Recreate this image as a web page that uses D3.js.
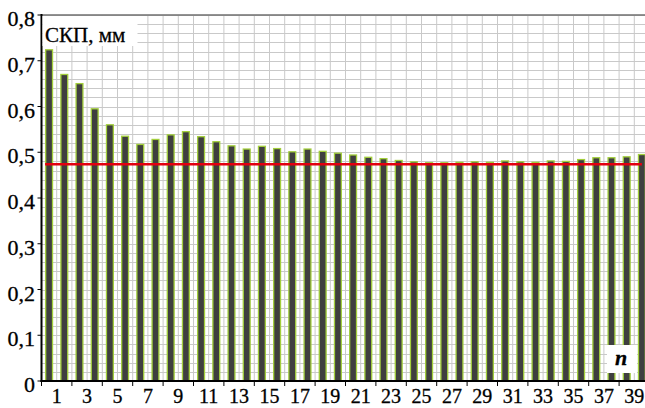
<!DOCTYPE html>
<html>
<head>
<meta charset="utf-8">
<script src="https://cdn.jsdelivr.net/npm/d3@7"></script>
<style>
  html, body { margin: 0; padding: 0; background: #fff; }
  svg { display: block; }
</style>
</head>
<body>
<svg id="chart" width="645" height="408"></svg>
<script>
// Number of observations n (1..40)
const categories = d3.range(1, 41);
// RMS error (СКП), mm, for each n
const rmsValues = [
  0.724, 0.670, 0.650, 0.595, 0.560, 0.535, 0.517, 0.528, 0.538, 0.545,
  0.534, 0.523, 0.514, 0.507, 0.513, 0.508, 0.501, 0.507, 0.502, 0.498,
  0.494, 0.489, 0.486, 0.482, 0.479, 0.477, 0.477, 0.478, 0.479, 0.478,
  0.481, 0.479, 0.478, 0.481, 0.480, 0.484, 0.488, 0.488, 0.490, 0.495
];
// Reference level drawn as a red line
const referenceLevel = 0.4737;
// Axis tick values
const yTicks = [0, 0.1, 0.2, 0.3, 0.4, 0.5, 0.6, 0.7, 0.8];
const yGridValues = d3.range(0, 0.8001, 0.02);
const xLabelCats = categories.filter(d => d % 2 === 1);
const yLabel = "СКП, мм";
const xLabel = "n";

const FONT = "Liberation Serif";

const svg = d3.select("#chart");
const plotLeft = 41.5, plotTop = 15, plotBottom = 381;
const step = 15.2;
const plotRight = plotLeft + categories.length * step;

const x = d3.scaleBand()
  .domain(categories)
  .range([plotLeft, plotRight])
  .paddingInner(0.47)
  .paddingOuter(0.235);
const y = d3.scaleLinear().domain([0, 0.8]).range([plotBottom, plotTop]);

const bw = x.bandwidth();
const boundary = d => x(d) + bw / 2 - x.step() / 2;

function styleText(sel, size) {
  return sel.style("font-family", FONT)
    .style("font-size", size + "px")
    .style("fill", "#000")
    .style("stroke", "#000")
    .style("stroke-width", "0.3px");
}

// Grid
const grid = svg.append("g");
grid.selectAll("line.h").data(yGridValues).join("line")
  .attr("x1", plotLeft).attr("x2", 645)
  .attr("y1", d => Math.round(y(d)) + 0.5).attr("y2", d => Math.round(y(d)) + 0.5)
  .attr("stroke", "#c9c9c9").attr("stroke-width", 1);
grid.selectAll("line.v").data(categories.slice(1)).join("line")
  .attr("x1", d => boundary(d)).attr("x2", d => boundary(d))
  .attr("y1", plotTop).attr("y2", plotBottom)
  .attr("stroke", "#c9c9c9").attr("stroke-width", 1);

// Top frame line
svg.append("line")
  .attr("x1", plotLeft).attr("x2", 645).attr("y1", plotTop).attr("y2", plotTop)
  .attr("stroke", "#6f6f6f").attr("stroke-width", 1.6);

// Bars
svg.append("g").selectAll("rect").data(categories).join("rect")
  .attr("x", d => x(d) + 0.6)
  .attr("width", bw - 1.2)
  .attr("y", (d, i) => y(rmsValues[i]))
  .attr("height", (d, i) => plotBottom - y(rmsValues[i]))
  .attr("fill", "#3f3f3f")
  .attr("stroke", "#a3cf3c")
  .attr("stroke-width", 1.3);

// Reference line
svg.append("line")
  .attr("x1", x(1)).attr("x2", x(40) + bw / 2)
  .attr("y1", y(referenceLevel)).attr("y2", y(referenceLevel))
  .attr("stroke", "#e3000f").attr("stroke-width", 2.6);

// Y axis
const yAxis = svg.append("g");
yAxis.append("line")
  .attr("x1", plotLeft).attr("x2", plotLeft).attr("y1", plotTop - 1).attr("y2", plotBottom + 1)
  .attr("stroke", "#000").attr("stroke-width", 2);
yAxis.selectAll("line.t").data(yTicks).join("line")
  .attr("x1", plotLeft - 4).attr("x2", plotLeft)
  .attr("y1", d => y(d)).attr("y2", d => y(d))
  .attr("stroke", "#000").attr("stroke-width", 1);
styleText(yAxis.selectAll("text").data(yTicks).join("text"), 22)
  .attr("x", 35).attr("y", d => y(d) + 11)
  .attr("text-anchor", "end")
  .text(d => d === 0 ? "0" : d3.format(".1f")(d).replace(".", ","));

// X axis
const xAxis = svg.append("g");
xAxis.append("line")
  .attr("x1", plotLeft - 1).attr("x2", 645).attr("y1", plotBottom).attr("y2", plotBottom)
  .attr("stroke", "#000").attr("stroke-width", 2);
xAxis.selectAll("line.t").data(xLabelCats).join("line")
  .attr("x1", d => boundary(d)).attr("x2", d => boundary(d))
  .attr("y1", plotBottom).attr("y2", plotBottom + 5)
  .attr("stroke", "#000").attr("stroke-width", 1);
styleText(xAxis.selectAll("text").data(xLabelCats).join("text"), 20)
  .attr("x", d => boundary(d) + x.step())
  .attr("y", 403)
  .attr("text-anchor", "middle")
  .text(d => d);

// Y axis title box
svg.append("rect").attr("x", plotLeft + 1).attr("y", plotTop + 1)
  .attr("width", 95).attr("height", 30).attr("fill", "#fff");
styleText(svg.append("text"), 21).attr("x", 45).attr("y", 42).text(yLabel);

// X axis title box
svg.append("rect").attr("x", 607).attr("y", 345)
  .attr("width", 30).attr("height", 28).attr("fill", "#fff");
styleText(svg.append("text"), 22)
  .attr("x", 621).attr("y", 365)
  .attr("text-anchor", "middle")
  .style("font-style", "italic").style("font-weight", "bold")
  .text(xLabel);
</script>
</body>
</html>
